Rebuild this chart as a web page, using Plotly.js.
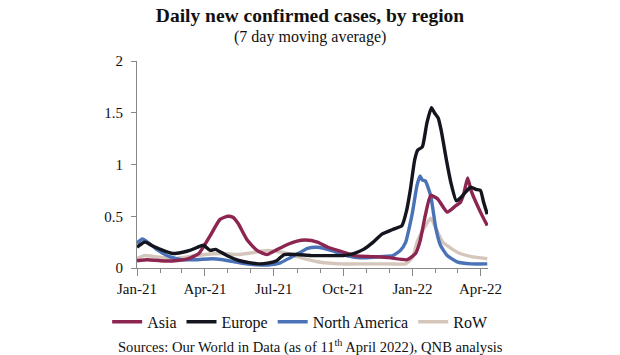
<!DOCTYPE html>
<html>
<head>
<meta charset="utf-8">
<script src="https://cdn.plot.ly/plotly-3.0.1.min.js"></script>
<style>html,body{margin:0;padding:0;background:#fff;}#chart{width:620px;height:355px;}</style>
</head>
<body>
<div id="chart"></div>
<script>
// ---- Data (values in millions, 7-day moving average) ----
const asiaDates = ["2021-01-01","2021-01-15","2021-02-01","2021-02-20","2021-03-10","2021-03-24","2021-04-07","2021-04-21","2021-05-01","2021-05-08","2021-05-15","2021-05-27","2021-06-09","2021-06-22","2021-07-06","2021-07-20","2021-08-01","2021-08-12","2021-08-28","2021-09-11","2021-09-28","2021-10-16","2021-11-08","2021-12-01","2021-12-25","2022-01-05","2022-01-11","2022-01-18","2022-01-25","2022-02-03","2022-02-16","2022-02-27","2022-03-05","2022-03-10","2022-03-15","2022-03-20","2022-04-01","2022-04-10"];
const asiaValues = [0.07,0.08,0.07,0.07,0.09,0.14,0.30,0.47,0.50,0.49,0.43,0.27,0.17,0.13,0.18,0.23,0.26,0.27,0.25,0.20,0.16,0.12,0.11,0.10,0.08,0.14,0.26,0.51,0.70,0.67,0.54,0.60,0.63,0.72,0.87,0.74,0.54,0.41];

const europeDates = ["2021-01-01","2021-01-08","2021-01-12","2021-01-20","2021-02-01","2021-02-18","2021-03-01","2021-03-12","2021-03-22","2021-03-30","2021-04-08","2021-04-15","2021-04-30","2021-05-17","2021-06-11","2021-06-25","2021-07-05","2021-07-15","2021-08-01","2021-08-20","2021-09-10","2021-10-01","2021-10-15","2021-10-28","2021-11-10","2021-11-22","2021-12-05","2021-12-18","2021-12-24","2021-12-29","2022-01-04","2022-01-08","2022-01-14","2022-01-20","2022-01-26","2022-01-30","2022-02-04","2022-02-08","2022-02-15","2022-02-21","2022-02-28","2022-03-06","2022-03-12","2022-03-19","2022-03-26","2022-04-01","2022-04-05","2022-04-10"];
const europeValues = [0.20,0.24,0.25,0.22,0.18,0.14,0.15,0.17,0.20,0.22,0.17,0.18,0.12,0.07,0.04,0.05,0.07,0.13,0.13,0.12,0.12,0.12,0.14,0.18,0.25,0.33,0.37,0.41,0.55,0.75,1.05,1.14,1.17,1.40,1.55,1.50,1.45,1.33,1.04,0.82,0.65,0.68,0.73,0.78,0.76,0.75,0.64,0.52];

const naDates = ["2021-01-01","2021-01-08","2021-01-15","2021-01-27","2021-02-13","2021-03-01","2021-03-20","2021-04-10","2021-04-25","2021-05-10","2021-05-25","2021-06-10","2021-06-26","2021-07-10","2021-07-23","2021-08-05","2021-08-15","2021-08-28","2021-09-15","2021-10-01","2021-10-20","2021-11-05","2021-11-20","2021-12-06","2021-12-16","2021-12-23","2021-12-28","2022-01-01","2022-01-07","2022-01-11","2022-01-14","2022-01-18","2022-01-25","2022-02-01","2022-02-07","2022-02-16","2022-03-01","2022-03-20","2022-04-10"];
const naValues = [0.24,0.28,0.25,0.18,0.11,0.08,0.08,0.09,0.08,0.06,0.04,0.03,0.03,0.05,0.10,0.15,0.19,0.20,0.17,0.13,0.10,0.10,0.11,0.12,0.17,0.25,0.40,0.54,0.80,0.89,0.85,0.84,0.70,0.38,0.22,0.12,0.06,0.04,0.04];

const rowDates = ["2021-01-01","2021-01-10","2021-01-25","2021-02-15","2021-03-10","2021-04-01","2021-04-25","2021-05-15","2021-06-05","2021-06-22","2021-07-14","2021-08-01","2021-08-28","2021-09-28","2021-10-30","2021-12-01","2021-12-23","2022-01-01","2022-01-07","2022-01-16","2022-01-25","2022-02-03","2022-02-10","2022-02-21","2022-03-05","2022-03-20","2022-04-10"];
const rowValues = [0.09,0.12,0.11,0.09,0.11,0.13,0.14,0.13,0.15,0.17,0.15,0.11,0.06,0.04,0.04,0.04,0.04,0.10,0.25,0.38,0.48,0.35,0.25,0.19,0.14,0.11,0.09];

const seriesNames = ["Asia","Europe","North America","RoW"];
const seriesColors = ["#8c2550","#151520","#4a72b6","#d4c6ba"];

const titleText = "<b>Daily new confirmed cases, by region</b>";
const subtitleText = "(7 day moving average)";
const sourceText = "Sources: Our World in Data (as of 11<sup>th</sup> April 2022), QNB analysis";

const allDates = [asiaDates, europeDates, naDates, rowDates];
const allValues = [asiaValues, europeValues, naValues, rowValues];

const traces = seriesNames.map((name, i) => ({
  type: "scatter",
  mode: "lines",
  name: name,
  x: allDates[i],
  y: allValues[i],
  line: {color: seriesColors[i], width: 3.4, shape: "spline", smoothing: 0.5}
}));
const ordered = [traces[3], traces[2], traces[0], traces[1]];
ordered.forEach(t => { t.legendrank = seriesNames.indexOf(t.name) + 1; });

const fam = "Liberation Serif";
const font = {family: fam, color: "#111", size: 15};

const layout = {
  width: 620, height: 355,
  margin: {l: 137, r: 132, t: 61, b: 87, autoexpand: false},
  paper_bgcolor: "#fff", plot_bgcolor: "#fff",
  font: font,
  showlegend: true,
  title: {text: titleText, x: 0.5, xanchor: "center", xref: "container", y: 1 - 15/355, yanchor: "middle", yref: "container",
          font: {family: fam, size: 19.5, color: "#111"}},
  xaxis: {
    type: "date",
    range: ["2021-01-01", "2022-04-11"],
    dtick: "M3", tick0: "2021-01-01",
    tickformat: "%b-%y", tickangle: 0,
    ticks: "outside", ticklen: 7, tickcolor: "#888", tickwidth: 1,
    minor: {dtick: "M1", tick0: "2021-01-01", ticks: "outside", ticklen: 4, tickcolor: "#888", showgrid: false},
    showline: true, linecolor: "#888", linewidth: 1,
    showgrid: false, zeroline: false,
    tickfont: {family: fam, size: 15}, fixedrange: true
  },
  yaxis: {
    range: [0, 2], dtick: 0.5,
    ticks: "outside", ticklen: 5, tickcolor: "#888", ticklabelstandoff: 5,
    showline: true, linecolor: "#888", linewidth: 1,
    showgrid: false, zeroline: false,
    tickfont: {family: fam, size: 15}, fixedrange: true
  },
  legend: {orientation: "h", x: -0.085, xanchor: "left", y: -0.26, yanchor: "middle",
           font: {family: fam, size: 16}, itemwidth: 30, bgcolor: "rgba(0,0,0,0)"},
  annotations: [
    {text: subtitleText, xref: "paper", yref: "paper", x: 0.493, y: (268 - 37) / 207, xanchor: "center", yanchor: "middle",
     showarrow: false, font: {family: fam, size: 16}},
    {text: sourceText, xref: "paper", yref: "paper", x: 0.493, y: (268 - 346) / 207, xanchor: "center", yanchor: "middle",
     showarrow: false, font: {family: fam, size: 14.6}}
  ]
};

Plotly.newPlot("chart", ordered, layout, {displayModeBar: false, staticPlot: true});
</script>
</body>
</html>
